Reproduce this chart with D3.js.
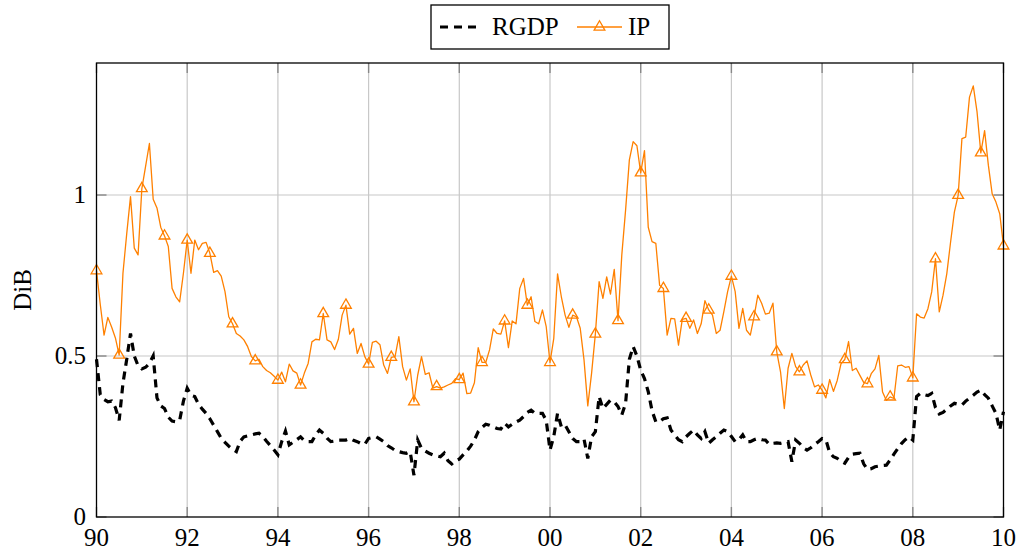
<!DOCTYPE html>
<html><head><meta charset="utf-8">
<script src="https://cdn.jsdelivr.net/npm/d3@7"></script>
<style>body{margin:0;background:#fff}svg{display:block}</style>
</head><body>
<svg id="c" width="1021" height="555" style="font-family:'Liberation Serif','DejaVu Serif','Times New Roman',serif"></svg>
<script>
const startYear = 1990;
const xTicks = [1990,1992,1994,1996,1998,2000,2002,2004,2006,2008,2010];
const xTickLabels = ["90","92","94","96","98","00","02","04","06","08","10"];
const yTicks = [0,0.5,1];
const yTickLabels = ["0","0.5","1"];
const seriesNames = ["RGDP","IP"];
const rgdp = [
0.49,0.38,0.365,0.358,0.36,0.34,0.30,0.415,0.49,0.57,0.50,0.47,
0.46,0.465,0.477,0.50,0.37,0.345,0.337,0.31,0.298,0.296,0.30,0.36,
0.40,0.378,0.374,0.35,0.335,0.322,0.305,0.285,0.265,0.245,0.232,0.22,
0.21,0.203,0.235,0.249,0.252,0.255,0.258,0.26,0.25,0.235,0.222,0.208,
0.193,0.234,0.267,0.224,0.232,0.24,0.249,0.237,0.234,0.234,0.255,0.27,
0.26,0.245,0.234,0.236,0.239,0.239,0.239,0.244,0.238,0.234,0.228,0.226,
0.244,0.247,0.249,0.242,0.234,0.222,0.215,0.207,0.203,0.2,0.198,0.203,
0.13,0.239,0.213,0.205,0.198,0.193,0.19,0.187,0.198,0.175,0.165,0.175,
0.18,0.193,0.205,0.22,0.239,0.265,0.278,0.288,0.285,0.28,0.275,0.273,
0.291,0.28,0.288,0.295,0.301,0.312,0.325,0.332,0.322,0.322,0.322,0.30,
0.208,0.25,0.322,0.28,0.286,0.265,0.244,0.234,0.234,0.242,0.182,0.249,
0.265,0.374,0.337,0.35,0.363,0.358,0.343,0.317,0.353,0.49,0.529,0.50,
0.456,0.43,0.389,0.33,0.296,0.296,0.305,0.308,0.27,0.255,0.24,0.234,
0.249,0.26,0.27,0.255,0.244,0.265,0.229,0.24,0.249,0.26,0.27,0.265,
0.25,0.234,0.24,0.255,0.234,0.234,0.24,0.244,0.24,0.239,0.226,0.229,
0.23,0.229,0.232,0.234,0.172,0.239,0.229,0.215,0.208,0.215,0.225,0.234,
0.244,0.24,0.2,0.187,0.182,0.172,0.167,0.185,0.195,0.197,0.198,0.165,
0.148,0.15,0.156,0.158,0.16,0.161,0.177,0.195,0.212,0.228,0.24,0.249,
0.239,0.374,0.384,0.38,0.377,0.384,0.34,0.32,0.325,0.335,0.345,0.353,
0.35,0.348,0.36,0.369,0.378,0.388,0.394,0.38,0.369,0.345,0.322,0.27,
0.327];
const ip = [
0.765,0.66,0.565,0.62,0.59,0.556,0.503,0.757,0.88,0.995,0.835,0.814,
1.02,1.09,1.16,0.987,0.96,0.90,0.873,0.84,0.71,0.684,0.668,0.757,
0.86,0.757,0.86,0.83,0.85,0.853,0.819,0.76,0.765,0.748,0.70,0.622,
0.60,0.57,0.562,0.55,0.529,0.498,0.485,0.49,0.467,0.455,0.448,0.437,
0.425,0.45,0.42,0.475,0.454,0.447,0.41,0.447,0.477,0.544,0.552,0.55,
0.632,0.55,0.544,0.52,0.552,0.627,0.658,0.568,0.586,0.508,0.539,0.498,
0.475,0.542,0.546,0.535,0.472,0.446,0.496,0.498,0.56,0.467,0.425,0.46,
0.358,0.441,0.498,0.443,0.448,0.40,0.405,0.40,0.404,0.41,0.415,0.43,
0.427,0.447,0.383,0.385,0.417,0.526,0.48,0.48,0.519,0.584,0.57,0.568,
0.609,0.526,0.609,0.60,0.71,0.741,0.658,0.684,0.607,0.60,0.643,0.591,
0.48,0.555,0.755,0.684,0.627,0.589,0.627,0.622,0.586,0.488,0.345,0.446,
0.568,0.731,0.679,0.746,0.692,0.769,0.61,0.814,0.953,1.109,1.166,1.153,
1.069,1.138,0.90,0.855,0.85,0.72,0.71,0.565,0.617,0.615,0.534,0.614,
0.617,0.586,0.612,0.57,0.60,0.672,0.643,0.627,0.57,0.58,0.638,0.70,
0.748,0.70,0.586,0.648,0.58,0.565,0.622,0.689,0.664,0.63,0.633,0.664,
0.513,0.451,0.337,0.462,0.508,0.467,0.451,0.472,0.485,0.441,0.404,0.41,
0.394,0.37,0.427,0.39,0.424,0.476,0.489,0.545,0.455,0.462,0.44,0.418,
0.414,0.445,0.46,0.502,0.388,0.362,0.373,0.368,0.469,0.472,0.465,0.467,
0.432,0.631,0.621,0.618,0.647,0.699,0.802,0.637,0.689,0.756,0.854,0.947,
0.999,1.175,1.18,1.304,1.339,1.258,1.131,1.2,1.092,1.004,0.978,0.942,
0.842];

const L=96.5, R=1003.5, T=63, B=517;
const x = d3.scaleLinear().domain([1990,2010]).range([L,R]);
const y = d3.scaleLinear().domain([0,1.41]).range([B,T]);
const svg = d3.select("#c");
const orange = "#ff8000";
const fs = 25;
const FF = "'Liberation Serif','DejaVu Serif','Times New Roman',serif";

const g = svg.append("g");
g.selectAll(".gx").data(xTicks.slice(1,-1)).enter().append("line")
 .attr("x1",d=>x(d)).attr("x2",d=>x(d)).attr("y1",T).attr("y2",B)
 .attr("stroke","#c8c8c8").attr("stroke-width",1.2);
g.selectAll(".gy").data(yTicks.slice(1)).enter().append("line")
 .attr("x1",L).attr("x2",R).attr("y1",d=>y(d)).attr("y2",d=>y(d))
 .attr("stroke","#c8c8c8").attr("stroke-width",1.2);
const tl=10, tc="#888";
xTicks.forEach(t=>{
  g.append("line").attr("x1",x(t)).attr("x2",x(t)).attr("y1",B).attr("y2",B-tl).attr("stroke",tc).attr("stroke-width",1.4);
  g.append("line").attr("x1",x(t)).attr("x2",x(t)).attr("y1",T).attr("y2",T+tl).attr("stroke",tc).attr("stroke-width",1.4);
});
yTicks.forEach(t=>{
  g.append("line").attr("x1",L).attr("x2",L+tl).attr("y1",y(t)).attr("y2",y(t)).attr("stroke",tc).attr("stroke-width",1.4);
  g.append("line").attr("x1",R).attr("x2",R-tl).attr("y1",y(t)).attr("y2",y(t)).attr("stroke",tc).attr("stroke-width",1.4);
});

const tOf = i => startYear + i/12;
const line = d3.line().x((d,i)=>x(tOf(i))).y(d=>y(d));
svg.append("path").datum(ip).attr("d",line).attr("fill","none")
  .attr("stroke",orange).attr("stroke-width",1.3).attr("stroke-linejoin","round");
svg.append("path").datum(rgdp).attr("d",line).attr("fill","none")
  .attr("stroke","#000").attr("stroke-width",3.2).attr("stroke-dasharray","8,6");

const triR = 6.2;
const tri = `M0,${-triR} L${0.866*triR},${0.5*triR} L${-0.866*triR},${0.5*triR} Z`;
svg.selectAll(".mk").data(ip.map((v,i)=>[i,v]).filter(d=>d[0]%6===0)).enter().append("path")
  .attr("d",tri).attr("transform",d=>`translate(${x(tOf(d[0]))},${y(d[1])})`)
  .attr("fill","none").attr("stroke",orange).attr("stroke-width",1.3);

svg.append("rect").attr("x",L).attr("y",T).attr("width",R-L).attr("height",B-T)
  .attr("fill","none").attr("stroke","#000").attr("stroke-width",1.3);

svg.selectAll(".xl").data(xTicks).enter().append("text")
  .attr("x",d=>x(d)).attr("y",546).attr("text-anchor","middle").attr("font-size",fs).attr("font-family",FF)
  .text((d,i)=>xTickLabels[i]);
svg.selectAll(".yl").data(yTicks).enter().append("text")
  .attr("x",86).attr("y",d=>y(d)+8).attr("text-anchor","end").attr("font-size",fs).attr("font-family",FF)
  .text((d,i)=>yTickLabels[i]);
svg.append("text").attr("transform","translate(31,290) rotate(-90)").attr("font-family",FF)
  .attr("text-anchor","middle").attr("font-size",fs).text("DiB");

const lg = svg.append("g");
lg.append("rect").attr("x",431).attr("y",5).attr("width",238).attr("height",44)
  .attr("fill","#fff").attr("stroke","#000").attr("stroke-width",1.3);
lg.append("line").attr("x1",440).attr("x2",481).attr("y1",27).attr("y2",27)
  .attr("stroke","#000").attr("stroke-width",3.2).attr("stroke-dasharray","8,6");
lg.append("text").attr("x",492).attr("y",35).attr("font-size",fs).attr("font-family",FF).text(seriesNames[0]);
lg.append("line").attr("x1",577).attr("x2",622).attr("y1",27).attr("y2",27)
  .attr("stroke",orange).attr("stroke-width",1.3);
lg.append("path").attr("d",tri).attr("transform","translate(599.5,27)")
  .attr("fill","none").attr("stroke",orange).attr("stroke-width",1.3);
lg.append("text").attr("x",628).attr("y",35).attr("font-size",fs).attr("font-family",FF).text(seriesNames[1]);
</script>
</body></html>
